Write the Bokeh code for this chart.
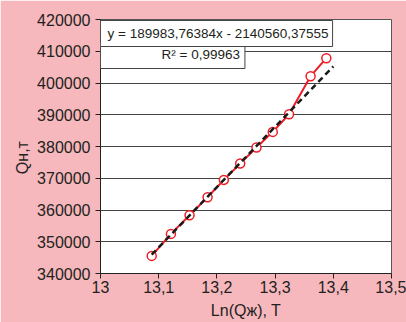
import numpy as np
from bokeh.plotting import figure
from bokeh.models import (Label, Range1d, FixedTicker, CustomJSTickFormatter,
                          BasicTickFormatter)
from bokeh.embed import file_html
from bokeh.resources import INLINE

# ---- data ----
ln_q_liquid = [13.088, 13.121, 13.153, 13.184, 13.212, 13.240, 13.268, 13.296, 13.324, 13.361, 13.388]
q_oil = [345540, 352470, 358360, 364030, 369480, 374650, 379690, 384600, 390170, 402140, 407810]
trend_slope = 189983.76384
trend_intercept = -2140560.37555
trend_r2 = 0.99963
trend_x_end = 13.4
x_ticks = [13.0, 13.1, 13.2, 13.3, 13.4, 13.5]
y_ticks = [340000, 350000, 360000, 370000, 380000, 390000, 400000, 410000, 420000]
eq_text = "y = 189983,76384x - 2140560,37555"
r2_text = "R\u00b2 = 0,99963"
x_title = "Ln(Qж), T"
y_title = "Qн,т"

FONT = "Liberation Sans"
PINK = "#f6b8bc"
TXT = "#231f20"

p = figure(width=406, height=322, output_backend="svg", toolbar_location=None,
           x_range=Range1d(13.0, 13.5), y_range=Range1d(340000, 420000),
           min_border_left=100, min_border_right=15, min_border_top=19, min_border_bottom=49)
p.border_fill_color = PINK
p.background_fill_color = "white"
p.outline_line_color = "#555555"
p.outline_line_width = 1

p.xgrid.grid_line_color = None
p.ygrid.grid_line_color = "#444444"
p.ygrid.grid_line_width = 1
p.ygrid.ticker = FixedTicker(ticks=y_ticks)

p.xaxis.ticker = FixedTicker(ticks=x_ticks)
p.yaxis.ticker = FixedTicker(ticks=y_ticks)
p.xaxis.formatter = CustomJSTickFormatter(code="""
    var s = (Math.round(tick*10)/10).toString();
    return s.replace('.', ',');
""")
p.yaxis.formatter = BasicTickFormatter(use_scientific=False)

for ax in (p.xaxis, p.yaxis):
    ax.axis_line_color = "#222222"
    ax.axis_line_width = 1
    ax.major_tick_line_color = "#222222"
    ax.major_tick_out = 5
    ax.major_tick_in = 0
    ax.minor_tick_line_color = None
    ax.major_label_text_font = FONT
    ax.major_label_text_font_size = "16px"
    ax.major_label_text_color = TXT
    ax.axis_label_text_font = FONT
    ax.axis_label_text_font_size = "16px"
    ax.axis_label_text_font_style = "normal"
    ax.axis_label_text_color = TXT

p.xaxis.major_label_standoff = 2
p.yaxis.major_label_standoff = 5
p.xaxis.axis_label = x_title
p.xaxis.axis_label_standoff = 6
p.yaxis.axis_label = y_title + "\u00a0" * 5
p.yaxis.axis_label_standoff = 3

# data series
p.line(ln_q_liquid, q_oil, line_color="#ee1c25", line_width=2)
p.scatter(ln_q_liquid, q_oil, size=9, marker="circle", line_color="#ee1c25",
          line_width=1.5, fill_color="white")

# linear trend
tx = np.array([ln_q_liquid[0], trend_x_end])
ty = trend_slope * tx + trend_intercept
p.line(tx, ty, line_color="#1a1a1a", line_width=2.5, line_dash="6 4")

# equation boxes (anchor = outer top-left corner; padding: left, right, top, bottom)
r2_label = Label(x=13.0, y=420000, text=r2_text,
                 text_font=FONT, text_font_size="13.5px", text_color=TXT,
                 text_align="left", text_baseline="top",
                 x_offset=0, y_offset=-24,
                 background_fill_color="white", border_line_color="#444444",
                 border_line_width=1, padding=(61, 5, 3, 7))
eq_label = Label(x=13.0, y=420000, text=eq_text,
                 text_font=FONT, text_font_size="13.5px", text_color=TXT,
                 text_align="left", text_baseline="top",
                 x_offset=0, y_offset=-1,
                 background_fill_color="white", border_line_color="#444444",
                 border_line_width=1, padding=(7, 4, 5, 6))
p.add_layout(r2_label)
p.add_layout(eq_label)

open("out.html", "w").write(file_html(p, INLINE))
